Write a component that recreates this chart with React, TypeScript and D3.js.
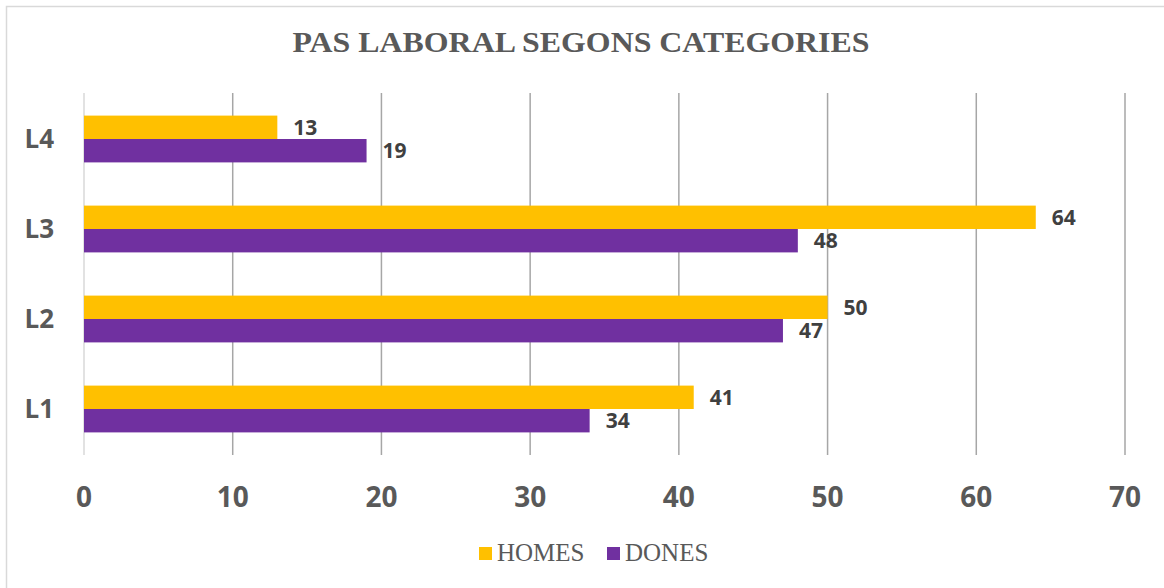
import React from "react";
import * as d3 from "d3";

const categories = ["L1", "L2", "L3", "L4"];
const homes = [41, 50, 64, 13];
const dones = [34, 47, 48, 19];
const seriesNames = ["HOMES", "DONES"];
const xTicks = [0, 10, 20, 30, 40, 50, 60, 70];
const title = "PAS LABORAL SEGONS CATEGORIES";

const COLORS = ["#FFC000", "#7030A0"];

export default function App() {
  const W = 1164, H = 588;
  const left = 84, right = 1125, top = 94, bottom = 454;
  const x = d3.scaleLinear().domain([0, 70]).range([left, right]);
  const y = d3.scaleBand().domain([...categories].reverse()).range([top, bottom]).paddingInner(0.48).paddingOuter(0.24);
  const inner = d3.scaleBand().domain(seriesNames).range([0, y.bandwidth()]);
  const series = [homes, dones];
  const sans = "'Open Sans', sans-serif";
  const serif = "'Liberation Serif', serif";

  return (
    <svg width={W} height={H} style={{ position: "absolute", left: 0, top: 0, background: "#fff" }}>
      <rect x={6.5} y={6.5} width={W + 10} height={H + 10} fill="#fff" stroke="#d9d9d9" strokeWidth={1.5} />
      <text x={581} y={52} textAnchor="middle" fontFamily={serif} fontWeight="bold" fontSize={29} textLength={577} lengthAdjust="spacingAndGlyphs" fill="#595959">{title}</text>
      {xTicks.map((t) => (
        <line key={t} x1={x(t)} x2={x(t)} y1={93} y2={455} stroke={t === 0 ? "#d9d9d9" : "#a6a6a6"} strokeWidth={1.5} />
      ))}
      {categories.map((c, ci) => (
        <g key={c}>
          {series.map((s, si) => {
            const by = (y(c) as number) + (inner(seriesNames[si]) as number);
            return (
              <g key={si}>
                <rect x={x(0)} y={by} width={x(s[ci]) - x(0)} height={inner.bandwidth()} fill={COLORS[si]} />
                <text x={x(s[ci]) + 16} y={by + inner.bandwidth() / 2} dy="0.36em" fontFamily={sans} fontWeight="bold" fontSize={21} fill="#404040">{s[ci]}</text>
              </g>
            );
          })}
          <text x={54} y={(y(c) as number) + y.bandwidth() / 2} dy="0.36em" textAnchor="end" fontFamily={sans} fontWeight="bold" fontSize={26} fill="#595959">{c}</text>
        </g>
      ))}
      {xTicks.map((t) => (
        <text key={t} x={x(t)} y={497} dy="0.36em" textAnchor="middle" fontFamily={sans} fontWeight="bold" fontSize={28} fill="#595959">{t}</text>
      ))}
      {seriesNames.map((n, i) => {
        const lx = [479, 607][i];
        return (
          <g key={n}>
            <rect x={lx} y={547} width={13} height={13} fill={COLORS[i]} />
            <text x={lx + 18} y={561} fontFamily={serif} fontSize={25} fill="#595959">{n}</text>
          </g>
        );
      })}
    </svg>
  );
}
